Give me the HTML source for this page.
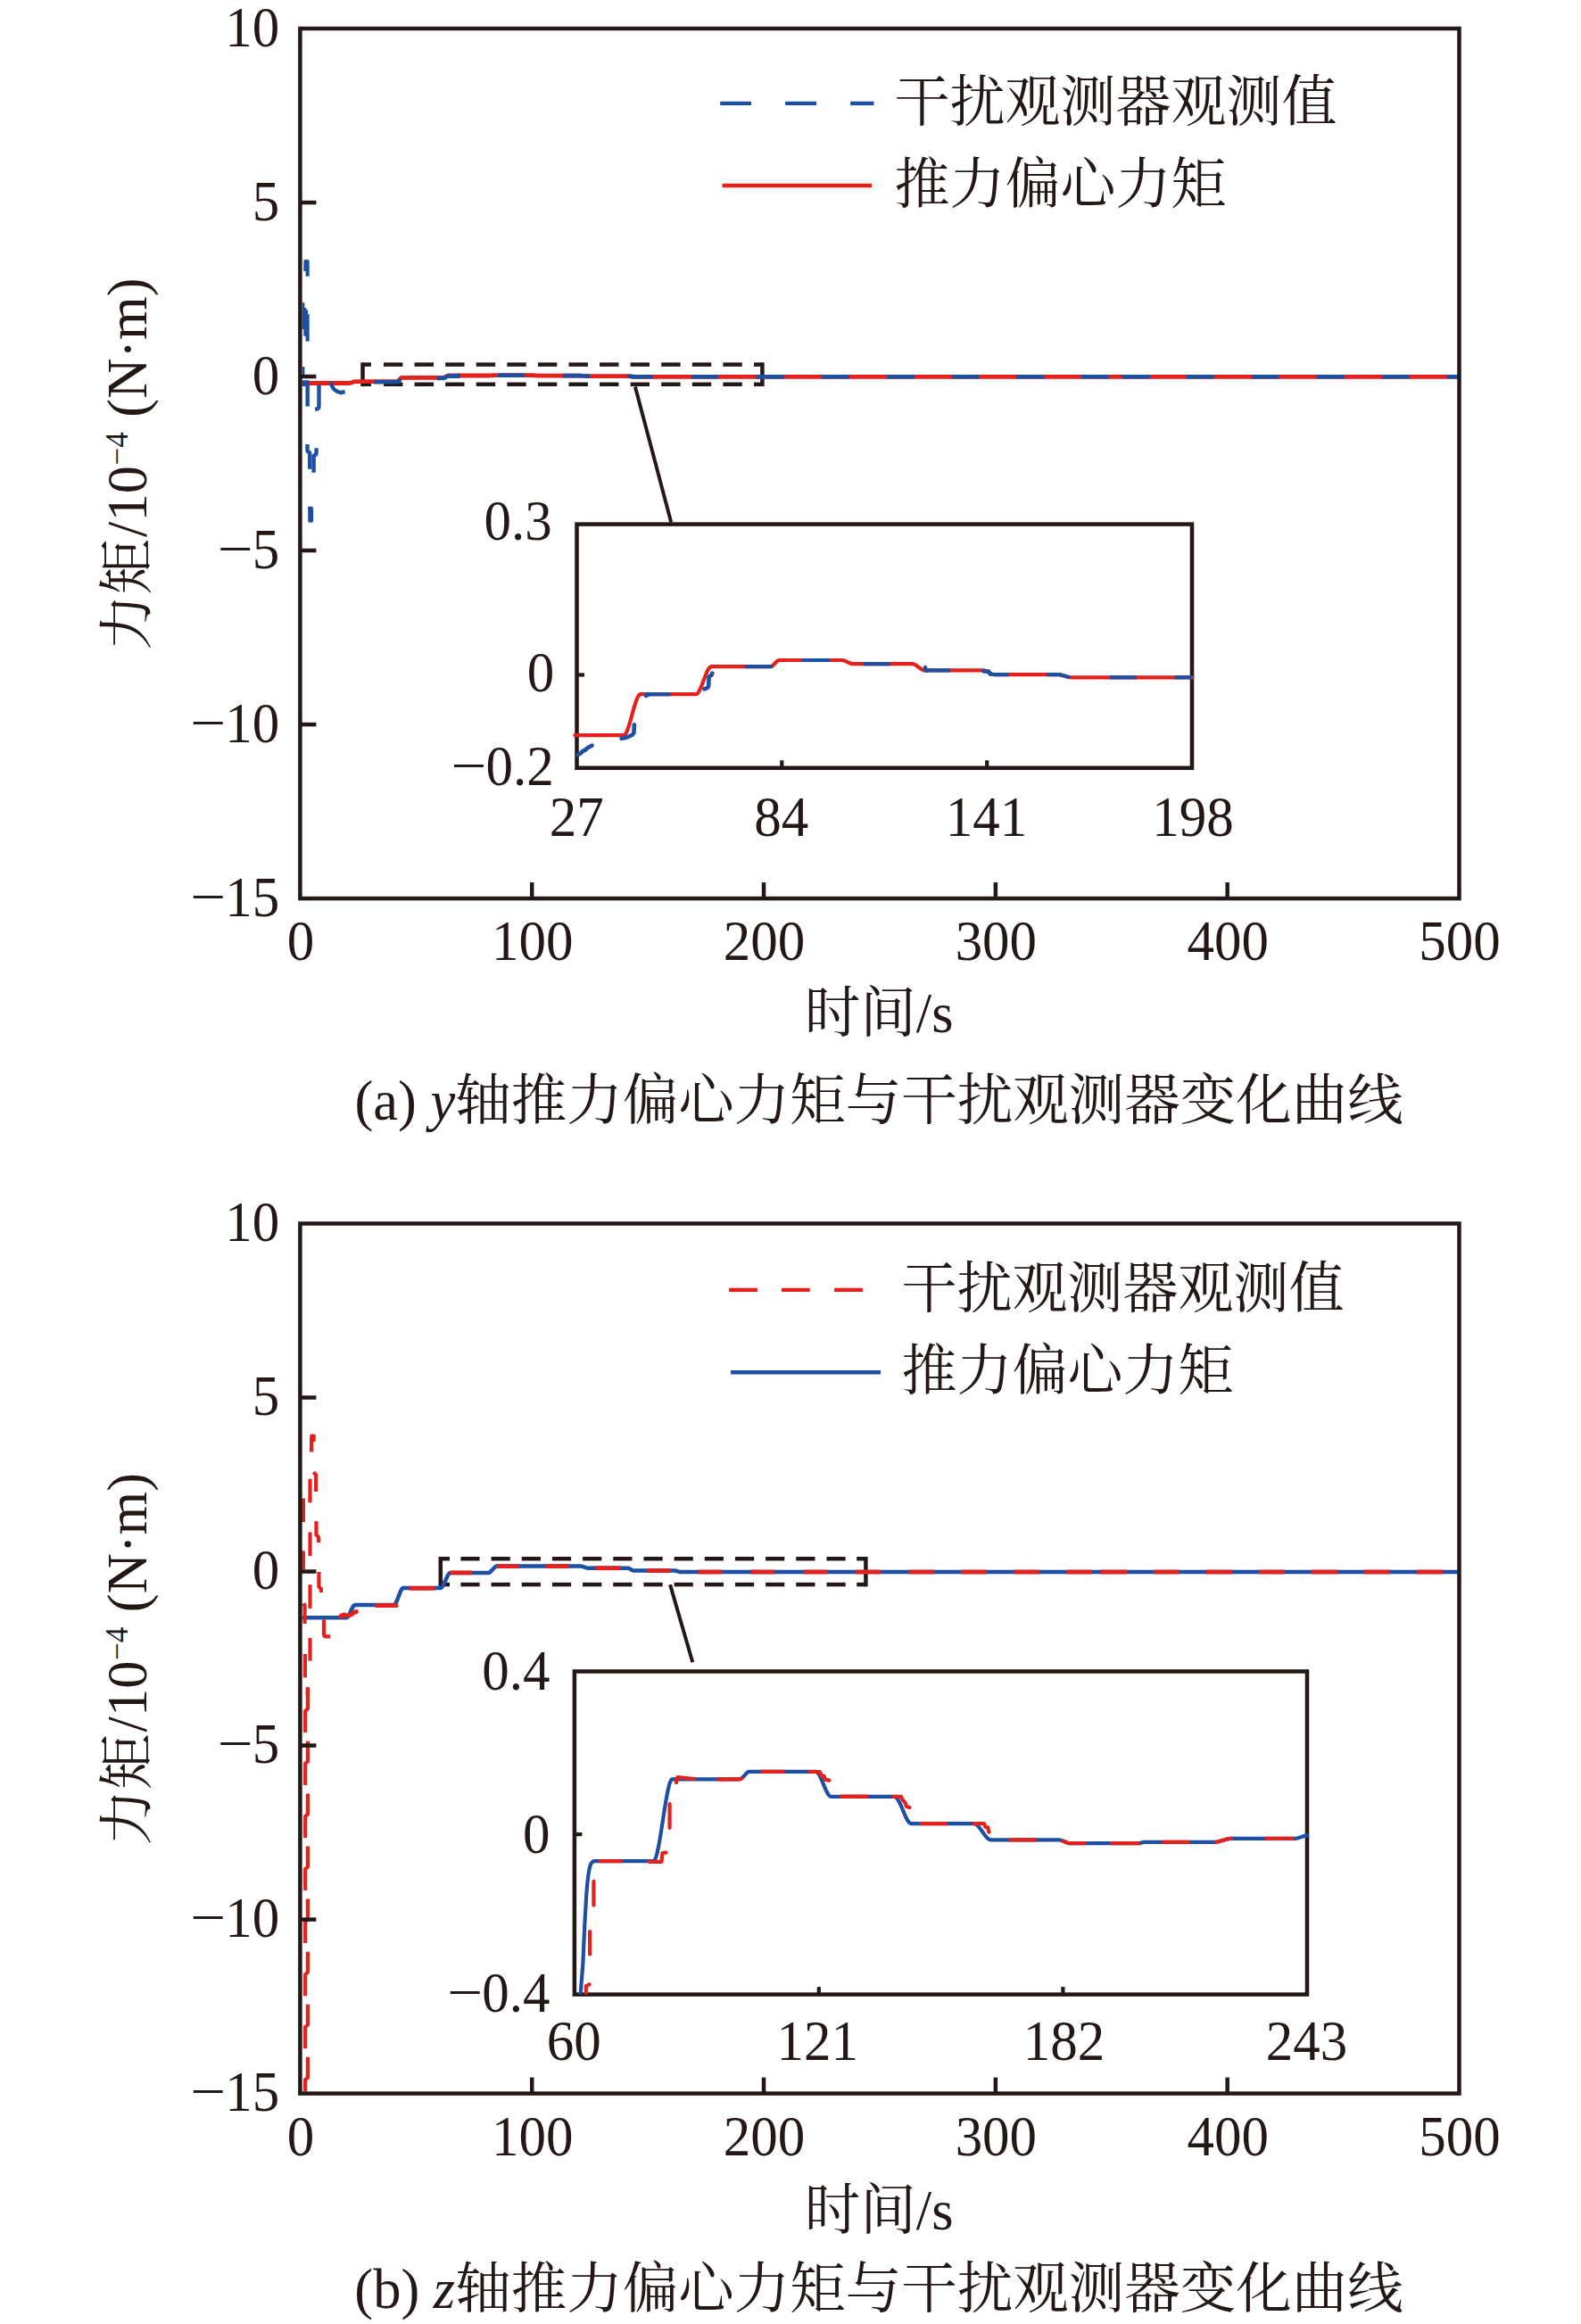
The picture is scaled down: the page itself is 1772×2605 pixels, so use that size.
<!DOCTYPE html>
<html lang="zh">
<head>
<meta charset="utf-8">
<title>推力偏心力矩与干扰观测器变化曲线</title>
<style>html,body{margin:0;padding:0;background:#fff;}svg{display:block;}</style>
</head>
<body>
<svg width="1772" height="2605" viewBox="0 0 1772 2605">
<rect x="0" y="0" width="1772" height="2605" fill="#ffffff"/>
<g fill="#231815">
<line x1="406.5" y1="406.35" x2="406.5" y2="433.05" stroke="#231815" stroke-width="4.5" />
<line x1="854.4" y1="406.35" x2="854.4" y2="433.05" stroke="#231815" stroke-width="4.5" />
<line x1="406.5" y1="408.6" x2="415.9" y2="408.6" stroke="#231815" stroke-width="4.5" />
<line x1="845" y1="408.6" x2="854.4" y2="408.6" stroke="#231815" stroke-width="4.5" />
<line x1="430" y1="408.6" x2="451.4" y2="408.6" stroke="#231815" stroke-width="4.5" />
<line x1="464.58" y1="408.6" x2="485.98" y2="408.6" stroke="#231815" stroke-width="4.5" />
<line x1="499.16" y1="408.6" x2="520.56" y2="408.6" stroke="#231815" stroke-width="4.5" />
<line x1="533.74" y1="408.6" x2="555.14" y2="408.6" stroke="#231815" stroke-width="4.5" />
<line x1="568.32" y1="408.6" x2="589.72" y2="408.6" stroke="#231815" stroke-width="4.5" />
<line x1="602.9" y1="408.6" x2="624.3" y2="408.6" stroke="#231815" stroke-width="4.5" />
<line x1="637.48" y1="408.6" x2="658.88" y2="408.6" stroke="#231815" stroke-width="4.5" />
<line x1="672.06" y1="408.6" x2="693.46" y2="408.6" stroke="#231815" stroke-width="4.5" />
<line x1="706.64" y1="408.6" x2="728.04" y2="408.6" stroke="#231815" stroke-width="4.5" />
<line x1="741.22" y1="408.6" x2="762.62" y2="408.6" stroke="#231815" stroke-width="4.5" />
<line x1="775.8" y1="408.6" x2="797.2" y2="408.6" stroke="#231815" stroke-width="4.5" />
<line x1="810.38" y1="408.6" x2="831.78" y2="408.6" stroke="#231815" stroke-width="4.5" />
<line x1="406.5" y1="430.8" x2="415.9" y2="430.8" stroke="#231815" stroke-width="4.5" />
<line x1="845" y1="430.8" x2="854.4" y2="430.8" stroke="#231815" stroke-width="4.5" />
<line x1="430" y1="430.8" x2="451.4" y2="430.8" stroke="#231815" stroke-width="4.5" />
<line x1="464.58" y1="430.8" x2="485.98" y2="430.8" stroke="#231815" stroke-width="4.5" />
<line x1="499.16" y1="430.8" x2="520.56" y2="430.8" stroke="#231815" stroke-width="4.5" />
<line x1="533.74" y1="430.8" x2="555.14" y2="430.8" stroke="#231815" stroke-width="4.5" />
<line x1="568.32" y1="430.8" x2="589.72" y2="430.8" stroke="#231815" stroke-width="4.5" />
<line x1="602.9" y1="430.8" x2="624.3" y2="430.8" stroke="#231815" stroke-width="4.5" />
<line x1="637.48" y1="430.8" x2="658.88" y2="430.8" stroke="#231815" stroke-width="4.5" />
<line x1="672.06" y1="430.8" x2="693.46" y2="430.8" stroke="#231815" stroke-width="4.5" />
<line x1="706.64" y1="430.8" x2="728.04" y2="430.8" stroke="#231815" stroke-width="4.5" />
<line x1="741.22" y1="430.8" x2="762.62" y2="430.8" stroke="#231815" stroke-width="4.5" />
<line x1="775.8" y1="430.8" x2="797.2" y2="430.8" stroke="#231815" stroke-width="4.5" />
<line x1="810.38" y1="430.8" x2="831.78" y2="430.8" stroke="#231815" stroke-width="4.5" />
<path d="M338.6,429.5 L391.3,429.5 L392.45,429.36 L393.6,429.01 L394.75,428.55 L395.9,428.09 L397.05,427.74 L398.2,427.6 L445.5,427.6 L446.33,427.28 L447.17,426.49 L448,425.45 L448.83,424.41 L449.67,423.62 L450.5,423.3 L496.5,423.3 L497.58,423.13 L498.67,422.7 L499.75,422.15 L500.83,421.6 L501.92,421.17 L503,421 L547,421 L548,420.98 L549,420.94 L550,420.88 L551,420.82 L552,420.76 L553,420.72 L554,420.7 L595.6,420.7 L596.65,420.72 L597.7,420.76 L598.75,420.83 L599.8,420.9 L600.85,420.97 L601.9,421.04 L602.95,421.08 L604,421.1 L648.7,421.1 L649.7,421.12 L650.7,421.16 L651.7,421.23 L652.7,421.31 L653.7,421.39 L654.7,421.47 L655.7,421.54 L656.7,421.58 L657.7,421.6 L703,421.6 L704,421.62 L705,421.69 L706,421.78 L707,421.89 L708,422.01 L709,422.12 L710,422.21 L711,422.28 L712,422.3 L1635.5,422.3" fill="none" stroke="#e5211d" stroke-width="4.8" />
<path d="M419,428.2 L445.5,428.2 L446.33,427.88 L447.17,427.09 L447.4,426.81" fill="none" stroke="#1d50a2" stroke-width="4.6" />
<path d="M490.1,423.9 L496.5,423.9 L497.58,423.73 L498.67,423.3 L499.75,422.75 L500.83,422.2 L501.92,421.77 L503,421.6 L515.4,421.6" fill="none" stroke="#1d50a2" stroke-width="4.6" />
<path d="M558.1,420.7 L588.2,420.7" fill="none" stroke="#1d50a2" stroke-width="4.6" />
<path d="M630.9,421.1 L648.7,421.1 L649.7,421.12 L650.7,421.16 L651.7,421.23 L652.7,421.31 L653.7,421.39 L654.7,421.47 L655.7,421.54 L656.7,421.58 L657.7,421.6 L660.9,421.6" fill="none" stroke="#1d50a2" stroke-width="4.6" />
<path d="M703.6,421.61 L704,421.62 L705,421.69 L706,421.78 L707,421.89 L708,422.01 L709,422.12 L710,422.21 L711,422.28 L712,422.3 L732,422.3" fill="none" stroke="#1d50a2" stroke-width="4.6" />
<path d="M774.8,422.3 L804.8,422.3" fill="none" stroke="#1d50a2" stroke-width="4.6" />
<path d="M847.5,422.3 L878.8,422.3" fill="none" stroke="#1d50a2" stroke-width="4.6" />
<path d="M920.8,422.3 L951.6,422.3" fill="none" stroke="#1d50a2" stroke-width="4.6" />
<path d="M994.1,422.3 L1024.9,422.3" fill="none" stroke="#1d50a2" stroke-width="4.6" />
<path d="M1066.9,422.3 L1097.7,422.3" fill="none" stroke="#1d50a2" stroke-width="4.6" />
<path d="M1139.1,422.3 L1170.5,422.3" fill="none" stroke="#1d50a2" stroke-width="4.6" />
<path d="M1211.9,422.3 L1242.7,422.3" fill="none" stroke="#1d50a2" stroke-width="4.6" />
<path d="M1257.6,422.3 L1289,422.3" fill="none" stroke="#1d50a2" stroke-width="4.6" />
<path d="M1329.9,422.3 L1360.7,422.3" fill="none" stroke="#1d50a2" stroke-width="4.6" />
<path d="M1403.2,422.3 L1433.5,422.3" fill="none" stroke="#1d50a2" stroke-width="4.6" />
<path d="M1476,422.3 L1506.8,422.3" fill="none" stroke="#1d50a2" stroke-width="4.6" />
<path d="M1549.3,422.3 L1579.6,422.3" fill="none" stroke="#1d50a2" stroke-width="4.6" />
<path d="M1622.1,422.3 L1635.4,422.3" fill="none" stroke="#1d50a2" stroke-width="4.6" />
<path d="M446.5,428 L448.5,424.5" fill="none" stroke="#1d50a2" stroke-width="4.8" />
<path d="M512,421.8 L516,420.6" fill="none" stroke="#1d50a2" stroke-width="4.8" />
<path d="M340.3,304 L340.3,293 Q340.3,291.1 342.2,291.1 L344.8,291.1 Q346.7,291.1 346.7,293 L346.7,309.8 L342.6,309.8 L342.6,304 Z" fill="#1d50a2"/>
<polygon points="338.8,339.3 341.4,339.3 341.4,344.9 343.5,344.9 343.5,347.5 345.2,347.5 345.2,352.2 346.7,352.2 346.7,382.6 342.6,382.6 342.6,376.7 340.3,376.7 340.3,369 338.8,369" fill="#1d50a2"/>
<polygon points="338.8,411.1 341.4,411.1 341.4,421.5 338.8,421.5" fill="#1d50a2"/>
<polygon points="338.8,426.2 346.5,426.2 346.5,433 338.8,433" fill="#1d50a2"/>
<path d="M344.65,432 L344.65,455.5" fill="none" stroke="#1d50a2" stroke-width="4.4" stroke-linecap="butt" stroke-linejoin="round"/>
<path d="M357.5,431.5 L357.5,455.2 Q357.5,458.4 353.2,458.9" fill="none" stroke="#1d50a2" stroke-width="4.4" stroke-linecap="butt" stroke-linejoin="round"/>
<path d="M370.8,428.5 Q372.5,438.8 382.5,440.2 L386.6,438.9" fill="none" stroke="#1d50a2" stroke-width="4.4" stroke-linecap="butt" stroke-linejoin="round"/>
<path d="M344.5,498.1 L344.5,504.2 Q344.5,506.6 347.2,507.4 L347.2,525.7" fill="none" stroke="#1d50a2" stroke-width="4.4" stroke-linecap="butt" stroke-linejoin="round"/>
<path d="M354.6,502.2 L354.6,507.6 Q354.6,510 351.6,510.8 L351.6,529.8" fill="none" stroke="#1d50a2" stroke-width="4.4" stroke-linecap="butt" stroke-linejoin="round"/>
<path d="M345.1,567.8 L349.8,567.8 L351.1,569.5 L351.1,584 Q351.1,585.8 349.3,585.8 L347,585.8 Q345.3,585.8 345.3,584 Z" fill="#1d50a2"/>
<line x1="711.9" y1="433.4" x2="752.2" y2="585.4" stroke="#231815" stroke-width="4" />
<line x1="807.2" y1="115.9" x2="842" y2="115.9" stroke="#1d50a2" stroke-width="4.4" />
<line x1="880.1" y1="115.9" x2="914.9" y2="115.9" stroke="#1d50a2" stroke-width="4.4" />
<line x1="953.1" y1="115.9" x2="979.4" y2="115.9" stroke="#1d50a2" stroke-width="4.4" />
<line x1="809.5" y1="208" x2="977.1" y2="208" stroke="#e5211d" stroke-width="4.4" />
<text x="1002.6" y="135.2" font-size="62" text-anchor="start" font-family='"Liberation Serif", "Noto Serif CJK SC", serif' dy="0.8">干扰观测器观测值</text>
<text x="1002.6" y="227" font-size="62" text-anchor="start" font-family='"Liberation Serif", "Noto Serif CJK SC", serif' dy="0.8">推力偏心力矩</text>
<rect x="646.5" y="587.6" width="689.5" height="273.2" fill="#fff" stroke="#231815" stroke-width="4.5"/>
<line x1="646.5" y1="756.5" x2="655" y2="756.5" stroke="#231815" stroke-width="4.2" />
<line x1="876.3" y1="860.8" x2="876.3" y2="852.3" stroke="#231815" stroke-width="4.2" />
<line x1="1106.2" y1="860.8" x2="1106.2" y2="852.3" stroke="#231815" stroke-width="4.2" />
<text transform="translate(618.8,605.4) scale(1,1.05)" font-size="61" text-anchor="end" font-family='"Liberation Serif", "Noto Serif CJK SC", serif' >0.3</text>
<text transform="translate(621.3,775) scale(1,1.05)" font-size="61" text-anchor="end" font-family='"Liberation Serif", "Noto Serif CJK SC", serif' >0</text>
<text transform="translate(545.45,879.3) scale(1.16,1)" font-size="61" text-anchor="end" font-family='"Liberation Serif", "Noto Serif CJK SC", serif'>−</text>
<text transform="translate(620.8,880.3) scale(1,1.05)" font-size="61" text-anchor="end" font-family='"Liberation Serif", "Noto Serif CJK SC", serif' >0.2</text>
<text transform="translate(646.3,937) scale(1,1.05)" font-size="61" text-anchor="middle" font-family='"Liberation Serif", "Noto Serif CJK SC", serif' >27</text>
<text transform="translate(875.8,937) scale(1,1.05)" font-size="61" text-anchor="middle" font-family='"Liberation Serif", "Noto Serif CJK SC", serif' >84</text>
<text transform="translate(1105.5,937) scale(1,1.05)" font-size="61" text-anchor="middle" font-family='"Liberation Serif", "Noto Serif CJK SC", serif' >141</text>
<text transform="translate(1337,937) scale(1,1.05)" font-size="61" text-anchor="middle" font-family='"Liberation Serif", "Noto Serif CJK SC", serif' >198</text>
<path d="M642.6,824.2 L699,824.2 L700.04,823.79 L701.09,822.62 L702.13,820.79 L703.18,818.39 L704.22,815.52 L705.27,812.27 L706.31,808.74 L707.36,805.02 L708.4,801.2 L709.44,797.38 L710.49,793.66 L711.53,790.13 L712.58,786.88 L713.62,784.01 L714.67,781.61 L715.71,779.78 L716.76,778.61 L717.8,778.2 L780,778.2 L781.01,777.89 L782.02,777.01 L783.04,775.64 L784.05,773.86 L785.06,771.73 L786.07,769.34 L787.08,766.76 L788.09,764.07 L789.11,761.33 L790.12,758.64 L791.13,756.06 L792.14,753.67 L793.15,751.54 L794.16,749.76 L795.18,748.39 L796.19,747.51 L797.2,747.2 L863.6,747.2 L864.7,746.95 L865.8,746.29 L866.9,745.33 L868,744.2 L869.1,743 L870.2,741.87 L871.3,740.91 L872.4,740.25 L873.5,740 L943,740 L944.07,740.07 L945.14,740.27 L946.21,740.57 L947.28,740.95 L948.35,741.39 L949.42,741.86 L950.48,742.34 L951.55,742.81 L952.62,743.25 L953.69,743.63 L954.76,743.93 L955.83,744.13 L956.9,744.2 L1022.4,744.2 L1023.41,744.3 L1024.43,744.6 L1025.44,745.05 L1026.46,745.63 L1027.47,746.3 L1028.49,747.03 L1029.5,747.8 L1030.51,748.57 L1031.53,749.3 L1032.54,749.97 L1033.56,750.55 L1034.57,751 L1035.59,751.3 L1036.6,751.4 L1102.1,751.4 L1103.13,751.49 L1104.17,751.75 L1105.2,752.13 L1106.23,752.62 L1107.27,753.17 L1108.3,753.75 L1109.33,754.33 L1110.37,754.88 L1111.4,755.37 L1112.43,755.75 L1113.47,756.01 L1114.5,756.1 L1185.4,756.1 L1186.46,756.14 L1187.52,756.26 L1188.58,756.43 L1189.64,756.66 L1190.7,756.93 L1191.76,757.23 L1192.82,757.54 L1193.88,757.86 L1194.94,758.17 L1196,758.47 L1197.06,758.74 L1198.12,758.97 L1199.18,759.14 L1200.24,759.26 L1201.3,759.3 L1338.2,759.3" fill="none" stroke="#e5211d" stroke-width="4.2" />
<path d="M722.6,778.2 L751.7,778.2" fill="none" stroke="#1d50a2" stroke-width="4.2" />
<path d="M835.2,747.2 L863.6,747.2 L864.7,746.95 L865.6,746.44" fill="none" stroke="#1d50a2" stroke-width="4.2" />
<path d="M898.4,740 L930.3,740" fill="none" stroke="#1d50a2" stroke-width="4.2" />
<path d="M967.5,744.2 L997.6,744.2" fill="none" stroke="#1d50a2" stroke-width="4.2" />
<path d="M1038,751.4 L1064.9,751.4" fill="none" stroke="#1d50a2" stroke-width="4.2" />
<path d="M1108,753.58 L1108.3,753.75 L1109.33,754.33 L1110.37,754.88 L1111.4,755.37 L1112.43,755.75 L1113.47,756.01 L1114.5,756.1 L1130.4,756.1" fill="none" stroke="#1d50a2" stroke-width="4.2" />
<path d="M1173,756.1 L1185.4,756.1 L1186.46,756.14 L1187.52,756.26 L1188.58,756.43 L1189.64,756.66 L1190.7,756.93 L1191.76,757.23 L1192.82,757.54 L1193.88,757.86 L1194.94,758.17 L1196,758.47 L1197.06,758.74 L1198.12,758.97 L1199.18,759.14 L1199.5,759.19" fill="none" stroke="#1d50a2" stroke-width="4.2" />
<path d="M1243.8,759.3 L1273.9,759.3" fill="none" stroke="#1d50a2" stroke-width="4.2" />
<path d="M1316.4,759.3 L1336.5,759.3" fill="none" stroke="#1d50a2" stroke-width="4.2" />
<path d="M647.6,846.2 L651.5,843.8 L652.5,842.4 L656.5,840.4 L657.5,839 L661.5,836.8 L663.6,835.6" fill="none" stroke="#1d50a2" stroke-width="4.6" stroke-linejoin="round" stroke-linecap="round"/>
<path d="M696.6,827.8 L700,827.3 L704.5,825.8 L708.6,823.8 L710.4,821.6 L710.9,812.2" fill="none" stroke="#1d50a2" stroke-width="4.6" stroke-linejoin="round" stroke-linecap="round"/>
<path d="M724,779.8 L727.5,778.2" fill="none" stroke="#1d50a2" stroke-width="4.6" stroke-linejoin="round" stroke-linecap="round"/>
<path d="M789.4,772.4 L793.2,770.8 L794.2,768.5 L794.6,758.6 L797.6,756.6 L798.3,754.6" fill="none" stroke="#1d50a2" stroke-width="4.6" stroke-linejoin="round" stroke-linecap="round"/>
<path d="M1036.8,748.2 L1037.4,751.4 L1040,751.4" fill="none" stroke="#1d50a2" stroke-width="4.6" stroke-linejoin="round" stroke-linecap="round"/>
<path d="M1102.5,752.4 L1108,752.6 L1110,755.6" fill="none" stroke="#1d50a2" stroke-width="4.6" stroke-linejoin="round" stroke-linecap="round"/>
<text x="985" y="1255.2" font-size="62.5" text-anchor="middle" font-family='"Liberation Serif", "Noto Serif CJK SC", serif'>(a) <tspan font-style="italic">y</tspan>轴推力偏心力矩与干扰观测器变化曲线</text>
<rect x="336.4" y="32" width="1299.1" height="975.1" fill="none" stroke="#231815" stroke-width="4.5"/>
<text transform="translate(313.3,52.3) scale(1,1.05)" font-size="61" text-anchor="end" font-family='"Liberation Serif", "Noto Serif CJK SC", serif' >10</text>
<line x1="336.4" y1="227.02" x2="354.4" y2="227.02" stroke="#231815" stroke-width="4.5" />
<text transform="translate(313.3,247.32) scale(1,1.05)" font-size="61" text-anchor="end" font-family='"Liberation Serif", "Noto Serif CJK SC", serif' >5</text>
<line x1="336.4" y1="422.04" x2="354.4" y2="422.04" stroke="#231815" stroke-width="4.5" />
<text transform="translate(313.3,442.34) scale(1,1.05)" font-size="61" text-anchor="end" font-family='"Liberation Serif", "Noto Serif CJK SC", serif' >0</text>
<line x1="336.4" y1="617.06" x2="354.4" y2="617.06" stroke="#231815" stroke-width="4.5" />
<text transform="translate(283.7,636.36) scale(1.16,1)" font-size="61" text-anchor="end" font-family='"Liberation Serif", "Noto Serif CJK SC", serif'>−</text>
<text transform="translate(313.3,637.36) scale(1,1.05)" font-size="61" text-anchor="end" font-family='"Liberation Serif", "Noto Serif CJK SC", serif' >5</text>
<line x1="336.4" y1="812.08" x2="354.4" y2="812.08" stroke="#231815" stroke-width="4.5" />
<text transform="translate(253.2,831.38) scale(1.16,1)" font-size="61" text-anchor="end" font-family='"Liberation Serif", "Noto Serif CJK SC", serif'>−</text>
<text transform="translate(313.3,832.38) scale(1,1.05)" font-size="61" text-anchor="end" font-family='"Liberation Serif", "Noto Serif CJK SC", serif' >10</text>
<text transform="translate(253.2,1026.4) scale(1.16,1)" font-size="61" text-anchor="end" font-family='"Liberation Serif", "Noto Serif CJK SC", serif'>−</text>
<text transform="translate(313.3,1027.4) scale(1,1.05)" font-size="61" text-anchor="end" font-family='"Liberation Serif", "Noto Serif CJK SC", serif' >15</text>
<text transform="translate(336.9,1076) scale(1,1.05)" font-size="61" text-anchor="middle" font-family='"Liberation Serif", "Noto Serif CJK SC", serif' >0</text>
<line x1="596.22" y1="1007.1" x2="596.22" y2="989.1" stroke="#231815" stroke-width="4.5" />
<text transform="translate(596.72,1076) scale(1,1.05)" font-size="61" text-anchor="middle" font-family='"Liberation Serif", "Noto Serif CJK SC", serif' >100</text>
<line x1="856.04" y1="1007.1" x2="856.04" y2="989.1" stroke="#231815" stroke-width="4.5" />
<text transform="translate(856.54,1076) scale(1,1.05)" font-size="61" text-anchor="middle" font-family='"Liberation Serif", "Noto Serif CJK SC", serif' >200</text>
<line x1="1115.86" y1="1007.1" x2="1115.86" y2="989.1" stroke="#231815" stroke-width="4.5" />
<text transform="translate(1116.36,1076) scale(1,1.05)" font-size="61" text-anchor="middle" font-family='"Liberation Serif", "Noto Serif CJK SC", serif' >300</text>
<line x1="1375.68" y1="1007.1" x2="1375.68" y2="989.1" stroke="#231815" stroke-width="4.5" />
<text transform="translate(1376.18,1076) scale(1,1.05)" font-size="61" text-anchor="middle" font-family='"Liberation Serif", "Noto Serif CJK SC", serif' >400</text>
<text transform="translate(1636,1076) scale(1,1.05)" font-size="61" text-anchor="middle" font-family='"Liberation Serif", "Noto Serif CJK SC", serif' >500</text>
<text x="985.2" y="1156.8" font-size="62.5" text-anchor="middle" font-family='"Liberation Serif", "Noto Serif CJK SC", serif' >时间/s</text>
<g transform="translate(163.7,520.2) rotate(-90)">
<text x="0" y="0" font-size="62.5" text-anchor="middle" font-family='"Liberation Serif", "Noto Serif CJK SC", serif'>力矩<tspan dx="2">/10</tspan><tspan font-size="35" dy="-21" dx="0.5">−4</tspan><tspan dy="21" dx="1"> (N·m)</tspan></text>
</g>
<line x1="493.8" y1="1744.95" x2="493.8" y2="1778.35" stroke="#231815" stroke-width="4.5" />
<line x1="970.4" y1="1744.95" x2="970.4" y2="1778.35" stroke="#231815" stroke-width="4.5" />
<line x1="493.8" y1="1747.2" x2="504" y2="1747.2" stroke="#231815" stroke-width="4.5" />
<line x1="960.2" y1="1747.2" x2="970.4" y2="1747.2" stroke="#231815" stroke-width="4.5" />
<line x1="516.4" y1="1747.2" x2="537.6" y2="1747.2" stroke="#231815" stroke-width="4.5" />
<line x1="550.57" y1="1747.2" x2="571.77" y2="1747.2" stroke="#231815" stroke-width="4.5" />
<line x1="584.74" y1="1747.2" x2="605.94" y2="1747.2" stroke="#231815" stroke-width="4.5" />
<line x1="618.91" y1="1747.2" x2="640.11" y2="1747.2" stroke="#231815" stroke-width="4.5" />
<line x1="653.08" y1="1747.2" x2="674.28" y2="1747.2" stroke="#231815" stroke-width="4.5" />
<line x1="687.25" y1="1747.2" x2="708.45" y2="1747.2" stroke="#231815" stroke-width="4.5" />
<line x1="721.42" y1="1747.2" x2="742.62" y2="1747.2" stroke="#231815" stroke-width="4.5" />
<line x1="755.59" y1="1747.2" x2="776.79" y2="1747.2" stroke="#231815" stroke-width="4.5" />
<line x1="789.76" y1="1747.2" x2="810.96" y2="1747.2" stroke="#231815" stroke-width="4.5" />
<line x1="823.93" y1="1747.2" x2="845.13" y2="1747.2" stroke="#231815" stroke-width="4.5" />
<line x1="858.1" y1="1747.2" x2="879.3" y2="1747.2" stroke="#231815" stroke-width="4.5" />
<line x1="892.27" y1="1747.2" x2="913.47" y2="1747.2" stroke="#231815" stroke-width="4.5" />
<line x1="926.44" y1="1747.2" x2="947.64" y2="1747.2" stroke="#231815" stroke-width="4.5" />
<line x1="493.8" y1="1776.1" x2="504" y2="1776.1" stroke="#231815" stroke-width="4.5" />
<line x1="960.2" y1="1776.1" x2="970.4" y2="1776.1" stroke="#231815" stroke-width="4.5" />
<line x1="516.4" y1="1776.1" x2="537.6" y2="1776.1" stroke="#231815" stroke-width="4.5" />
<line x1="550.57" y1="1776.1" x2="571.77" y2="1776.1" stroke="#231815" stroke-width="4.5" />
<line x1="584.74" y1="1776.1" x2="605.94" y2="1776.1" stroke="#231815" stroke-width="4.5" />
<line x1="618.91" y1="1776.1" x2="640.11" y2="1776.1" stroke="#231815" stroke-width="4.5" />
<line x1="653.08" y1="1776.1" x2="674.28" y2="1776.1" stroke="#231815" stroke-width="4.5" />
<line x1="687.25" y1="1776.1" x2="708.45" y2="1776.1" stroke="#231815" stroke-width="4.5" />
<line x1="721.42" y1="1776.1" x2="742.62" y2="1776.1" stroke="#231815" stroke-width="4.5" />
<line x1="755.59" y1="1776.1" x2="776.79" y2="1776.1" stroke="#231815" stroke-width="4.5" />
<line x1="789.76" y1="1776.1" x2="810.96" y2="1776.1" stroke="#231815" stroke-width="4.5" />
<line x1="823.93" y1="1776.1" x2="845.13" y2="1776.1" stroke="#231815" stroke-width="4.5" />
<line x1="858.1" y1="1776.1" x2="879.3" y2="1776.1" stroke="#231815" stroke-width="4.5" />
<line x1="892.27" y1="1776.1" x2="913.47" y2="1776.1" stroke="#231815" stroke-width="4.5" />
<line x1="926.44" y1="1776.1" x2="947.64" y2="1776.1" stroke="#231815" stroke-width="4.5" />
<path d="M338.6,1813.3 L388.3,1813.3 L389.36,1812.81 L390.41,1811.51 L391.47,1809.62 L392.52,1807.38 L393.58,1805.02 L394.63,1802.78 L395.69,1800.89 L396.74,1799.59 L397.8,1799.1 L441.4,1799.1 L442.45,1798.57 L443.5,1797.12 L444.55,1795 L445.6,1792.41 L446.65,1789.6 L447.7,1786.79 L448.75,1784.2 L449.8,1782.08 L450.85,1780.63 L451.9,1780.1 L493.6,1780.1 L494.64,1779.7 L495.67,1778.6 L496.71,1776.96 L497.75,1774.93 L498.78,1772.67 L499.82,1770.33 L500.85,1768.07 L501.89,1766.04 L502.93,1764.4 L503.96,1763.3 L505,1762.9 L547.6,1762.9 L548.62,1762.65 L549.64,1761.98 L550.67,1761.01 L551.69,1759.86 L552.71,1758.64 L553.73,1757.49 L554.76,1756.52 L555.78,1755.85 L556.8,1755.6 L651,1755.6 L652.04,1755.69 L653.08,1755.93 L654.11,1756.26 L655.15,1756.65 L656.19,1757.04 L657.22,1757.37 L658.26,1757.61 L659.3,1757.7 L703.7,1757.7 L704.78,1757.91 L705.87,1758.45 L706.95,1759.15 L708.03,1759.85 L709.12,1760.39 L710.2,1760.6 L756.3,1760.6 L757.4,1760.7 L758.5,1760.96 L759.6,1761.3 L760.7,1761.64 L761.8,1761.9 L762.9,1762 L1635.5,1762" fill="none" stroke="#1d50a2" stroke-width="4.5" />
<path d="M420.6,1799.6 L446.2,1799.6" fill="none" stroke="#e5211d" stroke-width="4.8" />
<path d="M458.5,1780.3 L487,1780.3" fill="none" stroke="#e5211d" stroke-width="4.8" />
<path d="M505,1764.01 L506,1762.9 L528.7,1762.9" fill="none" stroke="#e5211d" stroke-width="4.8" />
<path d="M557.3,1755.61 L557.4,1755.6 L582,1755.6" fill="none" stroke="#e5211d" stroke-width="4.8" />
<path d="M611.6,1755.6 L637.9,1755.6" fill="none" stroke="#e5211d" stroke-width="4.8" />
<path d="M667.5,1757.7 L695.4,1757.7" fill="none" stroke="#e5211d" stroke-width="4.8" />
<path d="M725,1760.6 L751.3,1760.6" fill="none" stroke="#e5211d" stroke-width="4.8" />
<path d="M782.6,1762 L808.9,1762" fill="none" stroke="#e5211d" stroke-width="4.8" />
<path d="M841.8,1762 L868.1,1762" fill="none" stroke="#e5211d" stroke-width="4.8" />
<path d="M901,1762 L927.3,1762" fill="none" stroke="#e5211d" stroke-width="4.8" />
<path d="M958.7,1762 L986.8,1762" fill="none" stroke="#e5211d" stroke-width="4.8" />
<path d="M1018.6,1762 L1046.7,1762" fill="none" stroke="#e5211d" stroke-width="4.8" />
<path d="M1077.1,1762 L1106.2,1762" fill="none" stroke="#e5211d" stroke-width="4.8" />
<path d="M1136.6,1762 L1164.7,1762" fill="none" stroke="#e5211d" stroke-width="4.8" />
<path d="M1196,1762 L1224.1,1762" fill="none" stroke="#e5211d" stroke-width="4.8" />
<path d="M1233.9,1762 L1263,1762" fill="none" stroke="#e5211d" stroke-width="4.8" />
<path d="M1293.4,1762 L1321.5,1762" fill="none" stroke="#e5211d" stroke-width="4.8" />
<path d="M1351.9,1762 L1380.9,1762" fill="none" stroke="#e5211d" stroke-width="4.8" />
<path d="M1411.3,1762 L1439.9,1762" fill="none" stroke="#e5211d" stroke-width="4.8" />
<path d="M1470.3,1762 L1499.3,1762" fill="none" stroke="#e5211d" stroke-width="4.8" />
<path d="M1528.8,1762 L1557.8,1762" fill="none" stroke="#e5211d" stroke-width="4.8" />
<path d="M1588.3,1762 L1617.3,1762" fill="none" stroke="#e5211d" stroke-width="4.8" />
<path d="M381.6,1811.8 Q384,1809.6 386,1810 Q388.4,1811.4 390.5,1810.8 Q393.5,1810.2 395.2,1808.6 Q397.2,1806.8 399.4,1806.6" fill="none" stroke="#e5211d" stroke-width="5" stroke-linecap="round" stroke-linejoin="round"/>
<rect x="347.2" y="1607.6" width="6.6" height="8.6" rx="1.8" fill="#e5211d"/>
<path d="M349.1,1627.4 L349.1,1611" fill="none" stroke="#e5211d" stroke-width="4.2" stroke-linejoin="round"/>
<path d="M351.5,1650 L354.2,1653.4 L354.2,1672" fill="none" stroke="#e5211d" stroke-width="4.2" stroke-linejoin="round"/>
<path d="M347.5,1657.7 L347.5,1684.3" fill="none" stroke="#e5211d" stroke-width="4.2" stroke-linejoin="round"/>
<path d="M339.9,1679.5 L339.9,1706.1" fill="none" stroke="#e5211d" stroke-width="4.2" stroke-linejoin="round"/>
<path d="M354.5,1705.2 L354.5,1720.5 L357,1723 L357,1728.9" fill="none" stroke="#e5211d" stroke-width="4.2" stroke-linejoin="round"/>
<path d="M347.5,1717.5 L347.5,1744.1" fill="none" stroke="#e5211d" stroke-width="4.2" stroke-linejoin="round"/>
<path d="M339.9,1738.4 L339.9,1759.2" fill="none" stroke="#e5211d" stroke-width="4.2" stroke-linejoin="round"/>
<path d="M357.4,1762.1 L357.4,1778.6 L359.9,1781.1 L359.9,1784.9" fill="none" stroke="#e5211d" stroke-width="4.2" stroke-linejoin="round"/>
<path d="M347.5,1776.3 L347.5,1802.9" fill="none" stroke="#e5211d" stroke-width="4.2" stroke-linejoin="round"/>
<path d="M340.2,1797.2 L341.6,1800 L341.6,1820" fill="none" stroke="#e5211d" stroke-width="4.2" stroke-linejoin="round"/>
<path d="M363,1815.2 L363,1832 Q363,1834.4 366,1834.4 L370.3,1834.4" fill="none" stroke="#e5211d" stroke-width="4.2" stroke-linejoin="round"/>
<path d="M347.5,1836.1 L347.5,1861.7" fill="none" stroke="#e5211d" stroke-width="4.2" stroke-linejoin="round"/>
<path d="M341.9,1854.1 L341.9,1880.4" fill="none" stroke="#e5211d" stroke-width="4.2" stroke-linejoin="round"/>
<path d="M344.8,1891.1 L344.8,1900" fill="none" stroke="#e5211d" stroke-width="4.2" stroke-linejoin="round"/>
<path d="M344.9,1892.4 L344.9,1915.4 L342.2,1917.9 L342.2,1941.9" fill="none" stroke="#e5211d" stroke-width="4.2" stroke-linejoin="miter"/>
<path d="M344.9,1951.45 L344.9,1974.45 L342.2,1976.95 L342.2,2000.95" fill="none" stroke="#e5211d" stroke-width="4.2" stroke-linejoin="miter"/>
<path d="M344.9,2010.5 L344.9,2033.5 L342.2,2036 L342.2,2060" fill="none" stroke="#e5211d" stroke-width="4.2" stroke-linejoin="miter"/>
<path d="M344.9,2069.55 L344.9,2092.55 L342.2,2095.05 L342.2,2119.05" fill="none" stroke="#e5211d" stroke-width="4.2" stroke-linejoin="miter"/>
<path d="M344.9,2128.6 L344.9,2151.6 L342.2,2154.1 L342.2,2178.1" fill="none" stroke="#e5211d" stroke-width="4.2" stroke-linejoin="miter"/>
<path d="M344.9,2187.65 L344.9,2210.65 L342.2,2213.15 L342.2,2237.15" fill="none" stroke="#e5211d" stroke-width="4.2" stroke-linejoin="miter"/>
<path d="M344.9,2246.7 L344.9,2269.7 L342.2,2272.2 L342.2,2296.2" fill="none" stroke="#e5211d" stroke-width="4.2" stroke-linejoin="miter"/>
<path d="M344.9,2305.75 L344.9,2328.75 L342.2,2331.25 L342.2,2344.5" fill="none" stroke="#e5211d" stroke-width="4.2" stroke-linejoin="miter"/>
<line x1="751.1" y1="1776.3" x2="776.3" y2="1863.2" stroke="#231815" stroke-width="4" />
<line x1="817.1" y1="1445.9" x2="848.9" y2="1445.9" stroke="#e5211d" stroke-width="4.4" />
<line x1="875.9" y1="1445.9" x2="907.7" y2="1445.9" stroke="#e5211d" stroke-width="4.4" />
<line x1="935.1" y1="1445.9" x2="966.9" y2="1445.9" stroke="#e5211d" stroke-width="4.4" />
<line x1="819" y1="1538.3" x2="987" y2="1538.3" stroke="#1d50a2" stroke-width="4.4" />
<text x="1010.6" y="1465.2" font-size="62" text-anchor="start" font-family='"Liberation Serif", "Noto Serif CJK SC", serif' dy="0.8">干扰观测器观测值</text>
<text x="1010.6" y="1557" font-size="62" text-anchor="start" font-family='"Liberation Serif", "Noto Serif CJK SC", serif' dy="0.8">推力偏心力矩</text>
<rect x="643.9" y="1873.5" width="821.1" height="362.1" fill="#fff" stroke="#231815" stroke-width="4.5"/>
<line x1="643.9" y1="2056.1" x2="652.4" y2="2056.1" stroke="#231815" stroke-width="4.2" />
<line x1="917.8" y1="2235.6" x2="917.8" y2="2227.1" stroke="#231815" stroke-width="4.2" />
<line x1="1191.4" y1="2235.6" x2="1191.4" y2="2227.1" stroke="#231815" stroke-width="4.2" />
<text transform="translate(616.6,1893.6) scale(1,1.05)" font-size="61" text-anchor="end" font-family='"Liberation Serif", "Noto Serif CJK SC", serif' >0.4</text>
<text transform="translate(616.6,2076.6) scale(1,1.05)" font-size="61" text-anchor="end" font-family='"Liberation Serif", "Noto Serif CJK SC", serif' >0</text>
<text transform="translate(541.25,2254.2) scale(1.16,1)" font-size="61" text-anchor="end" font-family='"Liberation Serif", "Noto Serif CJK SC", serif'>−</text>
<text transform="translate(616.6,2255.2) scale(1,1.05)" font-size="61" text-anchor="end" font-family='"Liberation Serif", "Noto Serif CJK SC", serif' >0.4</text>
<text transform="translate(643.3,2309) scale(1,1.05)" font-size="61" text-anchor="middle" font-family='"Liberation Serif", "Noto Serif CJK SC", serif' >60</text>
<text transform="translate(916.2,2309) scale(1,1.05)" font-size="61" text-anchor="middle" font-family='"Liberation Serif", "Noto Serif CJK SC", serif' >121</text>
<text transform="translate(1192.4,2309) scale(1,1.05)" font-size="61" text-anchor="middle" font-family='"Liberation Serif", "Noto Serif CJK SC", serif' >182</text>
<text transform="translate(1464.6,2309) scale(1,1.05)" font-size="61" text-anchor="middle" font-family='"Liberation Serif", "Noto Serif CJK SC", serif' >243</text>
<clipPath id="clipB"><rect x="643.9" y="1873.5" width="823.6" height="362.1"/></clipPath>
<g clip-path="url(#clipB)">
<path d="M650.6,2236 L653.4,2200.4 L655.3,2157.3 L657.2,2124.5 Q658.6,2106 659.9,2098.5 Q661.3,2089.6 663.5,2087.4 Q664.6,2086.3 666.5,2086.2" fill="none" stroke="#1d50a2" stroke-width="4.2" />
<path d="M666,2086.2 L732.4,2086.2 L733.4,2085.59 L734.41,2083.86 L735.41,2081.11 L736.42,2077.47 L737.42,2073.05 L738.43,2067.98 L739.43,2062.37 L740.44,2056.35 L741.44,2050.03 L742.45,2043.53 L743.45,2036.97 L744.46,2030.47 L745.46,2024.15 L746.47,2018.13 L747.47,2012.52 L748.48,2007.45 L749.48,2003.03 L750.49,1999.39 L751.49,1996.64 L752.5,1994.91 L753.5,1994.3 L828.9,1994.3 L829.91,1994.1 L830.92,1993.57 L831.93,1992.77 L832.94,1991.78 L833.95,1990.67 L834.95,1989.53 L835.96,1988.42 L836.97,1987.43 L837.98,1986.63 L838.99,1986.1 L840,1985.9 L914.3,1985.9 L915.31,1986.18 L916.32,1986.97 L917.34,1988.21 L918.35,1989.82 L919.36,1991.74 L920.37,1993.9 L921.38,1996.23 L922.39,1998.67 L923.41,2001.13 L924.42,2003.57 L925.43,2005.9 L926.44,2008.06 L927.45,2009.98 L928.46,2011.59 L929.48,2012.83 L930.49,2013.62 L931.5,2013.9 L1002.5,2013.9 L1003.55,2014.17 L1004.6,2014.94 L1005.65,2016.14 L1006.7,2017.72 L1007.75,2019.62 L1008.8,2021.76 L1009.85,2024.08 L1010.9,2026.54 L1011.95,2029.05 L1013,2031.56 L1014.05,2034.02 L1015.1,2036.34 L1016.15,2038.48 L1017.2,2040.38 L1018.25,2041.96 L1019.3,2043.16 L1020.35,2043.93 L1021.4,2044.2 L1091.7,2044.2 L1092.75,2044.36 L1093.8,2044.82 L1094.85,2045.55 L1095.9,2046.5 L1096.95,2047.63 L1098,2048.92 L1099.05,2050.32 L1100.1,2051.79 L1101.15,2053.3 L1102.2,2054.81 L1103.25,2056.28 L1104.3,2057.68 L1105.35,2058.97 L1106.4,2060.1 L1107.45,2061.05 L1108.5,2061.78 L1109.55,2062.24 L1110.6,2062.4 L1186.5,2062.4 L1187.52,2062.46 L1188.55,2062.64 L1189.57,2062.91 L1190.59,2063.26 L1191.62,2063.65 L1192.64,2064.08 L1193.66,2064.52 L1194.68,2064.95 L1195.71,2065.34 L1196.73,2065.69 L1197.75,2065.96 L1198.78,2066.14 L1199.8,2066.2 L1275.7,2066.2 L1276.79,2066.12 L1277.87,2065.92 L1278.96,2065.65 L1280.04,2065.35 L1281.13,2065.08 L1282.21,2064.88 L1283.3,2064.8 L1361.1,2064.8 L1362.1,2064.77 L1363.1,2064.68 L1364.1,2064.54 L1365.1,2064.35 L1366.1,2064.13 L1367.1,2063.88 L1368.1,2063.6 L1369.1,2063.31 L1370.1,2063 L1371.1,2062.7 L1372.1,2062.39 L1373.1,2062.1 L1374.1,2061.82 L1375.1,2061.57 L1376.1,2061.35 L1377.1,2061.16 L1378.1,2061.02 L1379.1,2060.93 L1380.1,2060.9 L1450.3,2060.9 L1451.31,2060.86 L1452.33,2060.75 L1453.34,2060.57 L1454.35,2060.34 L1455.36,2060.07 L1456.38,2059.76 L1457.39,2059.44 L1458.4,2059.1 L1459.41,2058.76 L1460.42,2058.44 L1461.44,2058.13 L1462.45,2057.86 L1463.46,2057.63 L1464.47,2057.45 L1465.49,2057.34 L1466.5,2057.3 L1467.5,2057.3" fill="none" stroke="#1d50a2" stroke-width="4.2" />
<path d="M670.8,2086.2 L697.7,2086.2" fill="none" stroke="#e5211d" stroke-width="4.2" />
<path d="M803.6,1994.3 L828.9,1994.3 L829.91,1994.1 L830.92,1993.57 L831.93,1992.77 L832.1,1992.61" fill="none" stroke="#e5211d" stroke-width="4.2" />
<path d="M852.6,1985.9 L879.5,1985.9" fill="none" stroke="#e5211d" stroke-width="4.2" />
<path d="M942.8,2013.9 L972.8,2013.9" fill="none" stroke="#e5211d" stroke-width="4.2" />
<path d="M941.7,2013.9 L972.1,2013.9" fill="none" stroke="#e5211d" stroke-width="4.2" />
<path d="M1030.9,2044.2 L1061.3,2044.2" fill="none" stroke="#e5211d" stroke-width="4.2" />
<path d="M1130.7,2062.4 L1161.9,2062.4" fill="none" stroke="#e5211d" stroke-width="4.2" />
<path d="M1190.3,2063.15 L1190.59,2063.26 L1191.62,2063.65 L1192.64,2064.08 L1193.66,2064.52 L1194.68,2064.95 L1195.71,2065.34 L1196.73,2065.69 L1197.75,2065.96 L1198.78,2066.14 L1199.8,2066.2 L1216.9,2066.2" fill="none" stroke="#e5211d" stroke-width="4.2" />
<path d="M1244.6,2066.2 L1275.7,2066.2 L1276.79,2066.12 L1277.6,2065.98" fill="none" stroke="#e5211d" stroke-width="4.2" />
<path d="M1302.3,2064.8 L1333.4,2064.8" fill="none" stroke="#e5211d" stroke-width="4.2" />
<path d="M1361.1,2064.8 L1362.1,2064.77 L1363.1,2064.68 L1364.1,2064.54 L1365.1,2064.35 L1366.1,2064.13 L1367.1,2063.88 L1368.1,2063.6 L1369.1,2063.31 L1370.1,2063 L1371.1,2062.7 L1372.1,2062.39 L1373.1,2062.1 L1374.1,2061.82 L1375.1,2061.57 L1376.1,2061.35 L1377.1,2061.16 L1378.1,2061.02 L1379.1,2060.93 L1380.1,2060.9 L1382,2060.9" fill="none" stroke="#e5211d" stroke-width="4.2" />
<path d="M1418,2060.9 L1450.3,2060.9" fill="none" stroke="#e5211d" stroke-width="4.2" />
<path d="M656.8,2236 L656.8,2226.2 L660.6,2224.4" fill="none" stroke="#e5211d" stroke-width="4.2" stroke-linejoin="round" stroke-linecap="round"/>
<path d="M661.1,2165.2 L661.1,2190.6" fill="none" stroke="#e5211d" stroke-width="4.2" stroke-linejoin="round" stroke-linecap="round"/>
<path d="M665.4,2108.9 L665.4,2135.6" fill="none" stroke="#e5211d" stroke-width="4.2" stroke-linejoin="round" stroke-linecap="round"/>
<path d="M727.7,2086.8 L741.5,2086.8 L742.5,2077 L746.7,2076.6" fill="none" stroke="#e5211d" stroke-width="4.2" stroke-linejoin="round" stroke-linecap="round"/>
<path d="M750.6,2022.2 L750.6,2048.9" fill="none" stroke="#e5211d" stroke-width="4.2" stroke-linejoin="round" stroke-linecap="round"/>
<path d="M758,1998 L759.3,1992 L778.3,1994" fill="none" stroke="#e5211d" stroke-width="4.2" stroke-linejoin="round" stroke-linecap="round"/>
<path d="M907.6,1986 L918.8,1986 L920.5,1990.2 L923.5,1990.6 L924.5,1994.6 L929.5,1995.6" fill="none" stroke="#e5211d" stroke-width="4.2" stroke-linejoin="round" stroke-linecap="round"/>
<path d="M1001.7,2013.9 L1010,2013.9 L1012,2018 L1014.5,2020.6 L1016,2025 L1019.5,2026" fill="none" stroke="#e5211d" stroke-width="4.2" stroke-linejoin="round" stroke-linecap="round"/>
<path d="M1091.7,2044.2 L1103,2044.2 L1104.5,2048 L1107.3,2048.4 L1108.5,2053.7" fill="none" stroke="#e5211d" stroke-width="4.2" stroke-linejoin="round" stroke-linecap="round"/>
</g>
<text x="985" y="2587.4" font-size="62.5" text-anchor="middle" font-family='"Liberation Serif", "Noto Serif CJK SC", serif'>(b) <tspan font-style="italic">z</tspan>轴推力偏心力矩与干扰观测器变化曲线</text>
<rect x="336.4" y="1371.5" width="1299.1" height="975.1" fill="none" stroke="#231815" stroke-width="4.5"/>
<text transform="translate(313.3,1391) scale(1,1.05)" font-size="61" text-anchor="end" font-family='"Liberation Serif", "Noto Serif CJK SC", serif' >10</text>
<line x1="336.4" y1="1566.52" x2="354.4" y2="1566.52" stroke="#231815" stroke-width="4.5" />
<text transform="translate(313.3,1586.02) scale(1,1.05)" font-size="61" text-anchor="end" font-family='"Liberation Serif", "Noto Serif CJK SC", serif' >5</text>
<line x1="336.4" y1="1761.54" x2="354.4" y2="1761.54" stroke="#231815" stroke-width="4.5" />
<text transform="translate(313.3,1781.04) scale(1,1.05)" font-size="61" text-anchor="end" font-family='"Liberation Serif", "Noto Serif CJK SC", serif' >0</text>
<line x1="336.4" y1="1956.56" x2="354.4" y2="1956.56" stroke="#231815" stroke-width="4.5" />
<text transform="translate(283.7,1975.06) scale(1.16,1)" font-size="61" text-anchor="end" font-family='"Liberation Serif", "Noto Serif CJK SC", serif'>−</text>
<text transform="translate(313.3,1976.06) scale(1,1.05)" font-size="61" text-anchor="end" font-family='"Liberation Serif", "Noto Serif CJK SC", serif' >5</text>
<line x1="336.4" y1="2151.58" x2="354.4" y2="2151.58" stroke="#231815" stroke-width="4.5" />
<text transform="translate(253.2,2170.08) scale(1.16,1)" font-size="61" text-anchor="end" font-family='"Liberation Serif", "Noto Serif CJK SC", serif'>−</text>
<text transform="translate(313.3,2171.08) scale(1,1.05)" font-size="61" text-anchor="end" font-family='"Liberation Serif", "Noto Serif CJK SC", serif' >10</text>
<text transform="translate(253.2,2365.1) scale(1.16,1)" font-size="61" text-anchor="end" font-family='"Liberation Serif", "Noto Serif CJK SC", serif'>−</text>
<text transform="translate(313.3,2366.1) scale(1,1.05)" font-size="61" text-anchor="end" font-family='"Liberation Serif", "Noto Serif CJK SC", serif' >15</text>
<text transform="translate(336.9,2415.5) scale(1,1.05)" font-size="61" text-anchor="middle" font-family='"Liberation Serif", "Noto Serif CJK SC", serif' >0</text>
<line x1="596.22" y1="2346.6" x2="596.22" y2="2328.6" stroke="#231815" stroke-width="4.5" />
<text transform="translate(596.72,2415.5) scale(1,1.05)" font-size="61" text-anchor="middle" font-family='"Liberation Serif", "Noto Serif CJK SC", serif' >100</text>
<line x1="856.04" y1="2346.6" x2="856.04" y2="2328.6" stroke="#231815" stroke-width="4.5" />
<text transform="translate(856.54,2415.5) scale(1,1.05)" font-size="61" text-anchor="middle" font-family='"Liberation Serif", "Noto Serif CJK SC", serif' >200</text>
<line x1="1115.86" y1="2346.6" x2="1115.86" y2="2328.6" stroke="#231815" stroke-width="4.5" />
<text transform="translate(1116.36,2415.5) scale(1,1.05)" font-size="61" text-anchor="middle" font-family='"Liberation Serif", "Noto Serif CJK SC", serif' >300</text>
<line x1="1375.68" y1="2346.6" x2="1375.68" y2="2328.6" stroke="#231815" stroke-width="4.5" />
<text transform="translate(1376.18,2415.5) scale(1,1.05)" font-size="61" text-anchor="middle" font-family='"Liberation Serif", "Noto Serif CJK SC", serif' >400</text>
<text transform="translate(1636,2415.5) scale(1,1.05)" font-size="61" text-anchor="middle" font-family='"Liberation Serif", "Noto Serif CJK SC", serif' >500</text>
<text x="985.2" y="2498.6" font-size="62.5" text-anchor="middle" font-family='"Liberation Serif", "Noto Serif CJK SC", serif' >时间/s</text>
<g transform="translate(163.7,1859.7) rotate(-90)">
<text x="0" y="0" font-size="62.5" text-anchor="middle" font-family='"Liberation Serif", "Noto Serif CJK SC", serif'>力矩<tspan dx="2">/10</tspan><tspan font-size="35" dy="-21" dx="0.5">−4</tspan><tspan dy="21" dx="1"> (N·m)</tspan></text>
</g>
</g>
</svg>
</body>
</html>
